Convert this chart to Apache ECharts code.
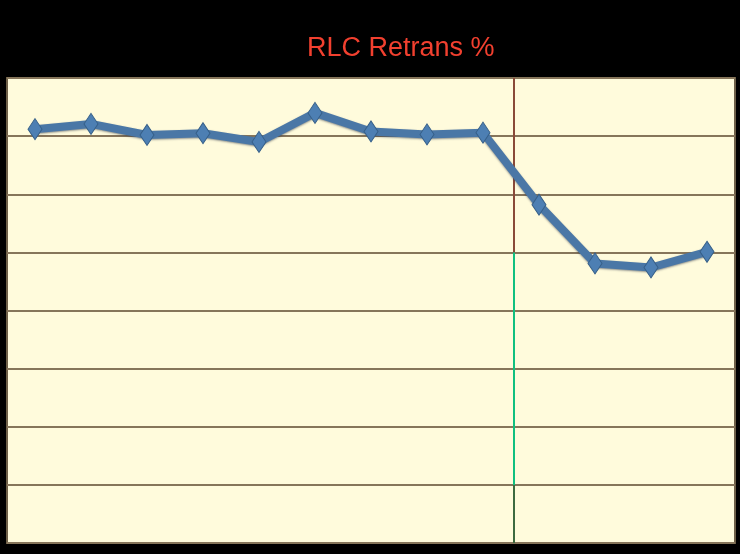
<!DOCTYPE html>
<html><head><meta charset="utf-8">
<script src="https://cdn.jsdelivr.net/npm/echarts@6/dist/echarts.min.js"></script>
<style>html,body{margin:0;padding:0;background:#000;}#c{width:740px;height:554px;}</style>
</head><body><div id="c"></div>
<script>
const categories = ['1','2','3','4','5','6','7','8','9','10','11','12','13'];
const retrans = [7.12, 7.21, 7.02, 7.05, 6.90, 7.40, 7.08, 7.03, 7.06, 5.82, 4.81, 4.74, 5.01];
const yMin = 0, yMax = 8, yStep = 1;
const markerX = 8.55;
const seriesData = categories.map((c, i) => [i, retrans[i]]);
const chart = echarts.init(document.getElementById('c'), null, {renderer:'canvas'});
chart.setOption({
  backgroundColor: '#000',
  animation: false,
  title: {
    text: 'RLC Retrans %', left: 302, top: 30,
    textStyle: {color: '#f2402f', fontFamily: '"Liberation Sans", Arial', fontSize: 27, fontWeight: 'normal'}
  },
  grid: {left: 7, right: 5, top: 78, bottom: 11, show: true, backgroundColor: '#fffbdc', borderColor: '#6e6048', borderWidth: 2},
  xAxis: {
    type: 'value', min: -0.5, max: categories.length - 0.5,
    axisLine: {show: false}, axisTick: {show: false}, axisLabel: {show: false}, splitLine: {show: false}
  },
  yAxis: {
    type: 'value', min: yMin, max: yMax, interval: yStep,
    axisLine: {show: false}, axisTick: {show: false}, axisLabel: {show: false},
    splitLine: {show: true, lineStyle: {color: '#86755a', width: 2}}
  },
  series: [{
    type: 'line', data: seriesData,
    symbol: 'diamond', symbolSize: [14, 21],
    lineStyle: {color: '#4a77a6', width: 8, shadowColor: 'rgba(40,50,70,0.5)', shadowBlur: 2, shadowOffsetY: 1},
    itemStyle: {color: '#4d7fb3', borderColor: '#365f88', borderWidth: 1},
    z: 5,
    markLine: {
      silent: true, symbol: ['none','none'], label: {show: false}, z: 3,
      data: [
        [{coord: [markerX, 8], lineStyle: {color: '#8a4a38', width: 2, type: 'solid'}}, {coord: [markerX, 5]}],
        [{coord: [markerX, 5], lineStyle: {color: '#10c080', width: 2, type: 'solid'}}, {coord: [markerX, 1]}],
        [{coord: [markerX, 1], lineStyle: {color: '#3e6a40', width: 2, type: 'solid'}}, {coord: [markerX, 0]}]
      ]
    }
  }]
});
</script></body></html>
